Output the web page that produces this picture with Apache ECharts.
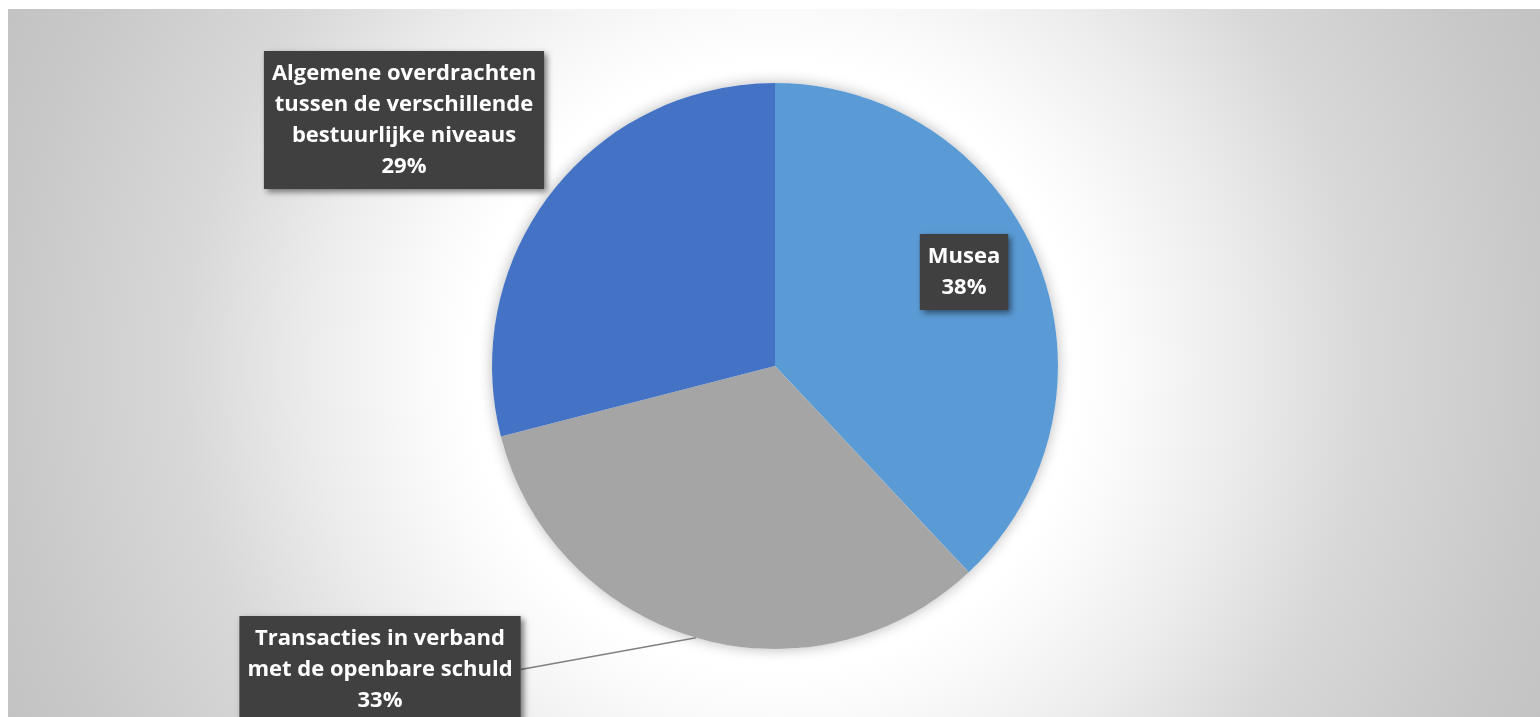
<!DOCTYPE html>
<html>
<head>
<meta charset="utf-8">
<script src="https://cdn.jsdelivr.net/npm/echarts@6/dist/echarts.min.js"></script>
<style>
  html, body { margin: 0; padding: 0; background: #ffffff; }
  #chart { position: absolute; left: 8px; top: 9px; width: 1532px; height: 708px; }
</style>
</head>
<body>
<div id="chart"></div>
<script>
// categories and shares (percent)
var categories = [
  'Musea',
  'Transacties in verband\nmet de openbare schuld',
  'Algemene overdrachten\ntussen de verschillende\nbestuurlijke niveaus'
];
var shares = [38, 33, 29];
var sliceColors = ['#5B9BD5', '#A5A5A5', '#4472C4'];

// where each label box sits (container px)
var labelPos = [
  { x: 956, y: 263, v: 'middle' },
  { x: 372, y: 607, v: 'top' },
  { x: 396, y: 111, v: 'middle' }
];

var chart = echarts.init(document.getElementById('chart'), null, { renderer: 'canvas' });

var pieData = categories.map(function (name, i) {
  var item = { name: name, value: shares[i], itemStyle: { color: sliceColors[i] } };
  if (i === 0) {
    item.label = { position: 'inside' };
    item.labelLine = { show: false };
  }
  if (i === 2) {
    item.labelLine = { show: false };
  }
  return item;
});

chart.setOption({
  backgroundColor: {
    type: 'radial',
    x: 767, y: 357, r: 844,
    global: true,
    colorStops: [
      { offset: 0, color: '#ffffff' },
      { offset: 0.36, color: '#ffffff' },
      { offset: 0.42, color: '#fafafa' },
      { offset: 0.55, color: '#ececec' },
      { offset: 0.70, color: '#d8d8d8' },
      { offset: 0.91, color: '#c8c8c8' },
      { offset: 1, color: '#c3c3c3' }
    ]
  },
  animation: false,
  series: [
    {
      // soft shadow under the whole pie
      type: 'pie',
      silent: true,
      center: [767, 357],
      radius: 283,
      label: { show: false },
      labelLine: { show: false },
      itemStyle: {
        color: '#ffffff',
        shadowBlur: 14,
        shadowColor: 'rgba(0,0,0,0.28)'
      },
      data: [{ value: 1, name: '' }],
      z: 1
    },
    {
      type: 'pie',
      center: [767, 357],
      radius: 283,
      startAngle: 90,
      clockwise: true,
      z: 2,
      label: {
        show: true,
        position: 'outside',
        formatter: function (p) {
          return p.name + '\n' + Math.round(p.percent) + '%';
        },
        color: '#ffffff',
        fontFamily: 'Open Sans',
        fontWeight: 'bold',
        fontSize: 22,
        lineHeight: 31,
        align: 'center',
        backgroundColor: '#404040',
        padding: [7, 8, 7, 8],
        shadowColor: 'rgba(0,0,0,0.5)',
        shadowBlur: 6,
        shadowOffsetX: 3,
        shadowOffsetY: 3
      },
      labelLine: {
        show: true,
        length: 10,
        length2: 0,
        lineStyle: { color: '#808080', width: 1.5 }
      },
      labelLayout: function (params) {
        var p = labelPos[params.dataIndex];
        return { x: p.x, y: p.y, align: 'center', verticalAlign: p.v };
      },
      data: pieData
    }
  ]
});
</script>
</body>
</html>
